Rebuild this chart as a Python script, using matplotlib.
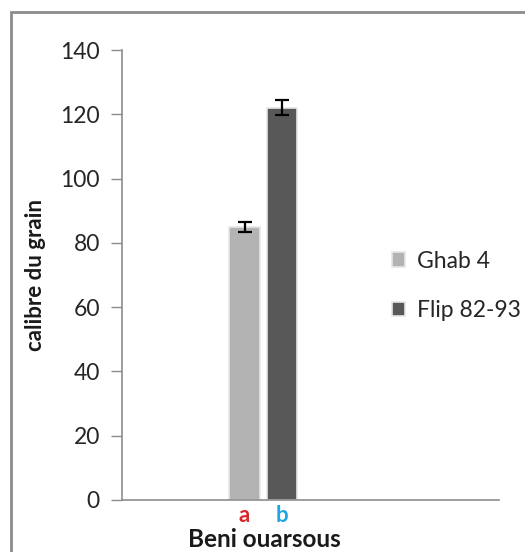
import matplotlib

matplotlib.use("Agg")
import matplotlib.pyplot as plt
from matplotlib.patches import Rectangle

plt.rcParams["font.family"] = ["Lato", "DejaVu Sans"]

# Grain size for the two varieties at Beni ouarsous
varieties = ["Ghab 4", "Flip 82-93"]
values = [85, 122]
errors = [1.5, 2.3]
letters = ["a", "b"]
letter_colors = ["#d9262b", "#1ea5e6"]
bar_colors = ["#b3b3b3", "#585858"]
site = "Beni ouarsous"
yticks = [0, 20, 40, 60, 80, 100, 120, 140]

W, H = 525, 552
fig = plt.figure(figsize=(W / 100, H / 100), dpi=100)
ax = fig.add_axes([122 / W, 1 - 500 / H, (499 - 122) / W, (500 - 50) / H])

positions = [0.325, 0.425]
for x, v, e, c, name in zip(positions, values, errors, bar_colors, varieties):
    ax.bar(x, v, width=0.08, color=c, edgecolor="#e6e6e6", linewidth=1.2,
           label=name, zorder=2)
    ax.errorbar(x, v, yerr=e, fmt="none", ecolor="black", elinewidth=1.6,
                capsize=5, capthick=1.6, zorder=3)

ax.set_xlim(0, 1)
ax.set_ylim(0, 140)
ax.set_yticks(yticks)
ax.set_xticks([])
ax.tick_params(axis="y", direction="out", length=8, width=1, color="#8c8c8c",
               labelsize=16.5, pad=8, labelcolor="#262626")
for side in ("top", "right"):
    ax.spines[side].set_visible(False)
for side in ("left", "bottom"):
    ax.spines[side].set_color("#8c8c8c")
    ax.spines[side].set_linewidth(1.2)

ax.set_ylabel("calibre du grain", fontsize=16, fontweight="bold", labelpad=10,
              color="#1a1a1a")

# significance letters under each bar, then the site name
xt = ax.get_xaxis_transform()
for x, t, c in zip(positions, letters, letter_colors):
    ax.text(x, -22 / 450, t, transform=xt, ha="center", va="baseline",
            fontsize=16, fontweight="bold", color=c)
ax.text(0.378, -47 / 450, site, transform=xt, ha="center", va="baseline",
        fontsize=17.5, fontweight="bold", color="#1a1a1a")

leg = fig.legend(loc="upper left", bbox_to_anchor=(371 / W, 1 - 230 / H),
                 frameon=False, fontsize=16.5, handlelength=0.6, handleheight=0.6,
                 handletextpad=0.5, labelspacing=1.25, labelcolor="#262626")

# chart frame
fig.patches.append(Rectangle((11 / W, -0.05), 1.2, 1 - 12 / H + 0.05,
                             transform=fig.transFigure, fill=False,
                             edgecolor="#8c8c8c", linewidth=2))

fig.savefig("out.png", dpi=100, facecolor="white")
